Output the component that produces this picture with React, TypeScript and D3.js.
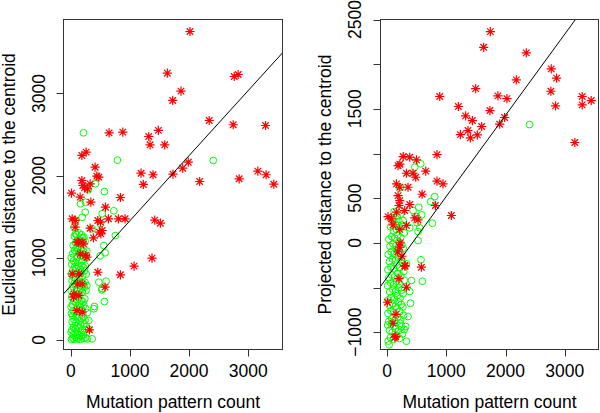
import React from "react";
import * as d3 from "d3";

// ---------- Data ----------
const xTicks = [0, 1000, 2000, 3000];
const yTicksLeft = [0, 1000, 2000, 3000];
const yLabelsLeft = [0, 1000, 2000, 3000];
const yTicksRight = [-1000, -500, 0, 500, 1000, 1500, 2000, 2500];
const yLabelsRight = [-1000, 0, 500, 1500, 2500];

const xTitle = "Mutation pattern count";
const yTitleLeft = "Euclidean distance to the centroid";
const yTitleRight = "Projected distance to the centroid";

// regression lines: [intercept, slope]
const fitLeft = [659, 0.792];
const fitRight = [-388, 0.908];

const euclidRed: [number, number][] = [
  [2015, 3755], [1632, 3247], [2764, 3207], [2831, 3231], [1863, 3028], [1723, 2915],
  [2341, 2671], [2747, 2619], [3294, 2610], [647, 2521], [878, 2529], [1480, 2550],
  [1318, 2476], [1340, 2375], [1588, 2375], [1987, 2163], [1892, 2090], [1728, 2017],
  [1187, 2029], [1390, 2010], [1226, 1892], [2179, 1928], [3164, 2054], [3304, 2010],
  [2848, 1961], [3434, 1895], [1419, 1457], [1514, 1420], [1373, 994], [1069, 897],
  [838, 792], [838, 1733], [635, 1474], [804, 1474], [917, 1474], [585, 1615],
  [456, 1453], [483, 1311], [382, 1242], [326, 1359], [456, 823], [579, 641],
  [314, 122], [439, 1993], [410, 2102], [258, 2285], [186, 2245], [10, 1786],
  [157, 1737], [186, 1940], [203, 1880], [230, 1850], [280, 1839], [338, 1676],
  [22, 1474], [73, 1372], [326, 1900], [473, 1981], [500, 1433], [529, 1331],
  [191, 1189], [106, 1189], [128, 1189], [213, 1169], [157, 1047], [270, 1006],
  [247, 1027], [191, 682], [51, 560], [135, 540], [191, 336], [135, 804],
  [22, 804], [111, 682], [44, 519], [101, 357], [73, 1453], [507, 1291],
];

const euclidGreen: [number, number][] = [
  [213, 2521], [787, 2188], [2409, 2184], [449, 1981], [416, 1900], [275, 1839],
  [568, 1806], [162, 1657], [247, 1676], [242, 1554], [726, 1571], [529, 1535],
  [78, 1453], [191, 1493], [500, 1413], [51, 1372], [360, 1352], [78, 1291],
  [753, 1270], [220, 1250], [106, 1189], [557, 1148], [106, 1128], [579, 1060],
  [495, 1023], [596, 714], [524, 609], [568, 466], [399, 406], [473, 702],
  [389, 378], [304, 235], [360, 12], [275, 12], [529, 625], [297, 1827],
  // dense cluster
  [10, 5], [30, 20], [55, 8], [80, 30], [100, 10], [130, 25], [160, 5], [190, 40],
  [220, 15], [250, 30], [40, 60], [70, 80], [120, 70], [170, 90], [210, 60], [5, 95],
  [145, 50], [15, 120], [45, 150], [75, 130], [105, 170], [135, 140], [165, 180],
  [195, 120], [225, 200], [260, 160], [20, 220], [50, 250], [85, 210], [115, 270],
  [150, 230], [180, 260], [210, 290], [240, 240], [30, 290], [95, 300], [300, 130],
  [10, 320], [40, 350], [70, 330], [100, 380], [130, 340], [160, 400], [190, 360],
  [220, 420], [250, 380], [25, 430], [55, 470], [85, 450], [115, 490], [145, 440],
  [175, 480], [205, 460], [235, 500], [280, 330], [5, 400], [15, 520], [45, 560],
  [75, 540], [105, 600], [135, 560], [165, 620], [195, 580], [225, 640], [255, 600],
  [30, 650], [60, 690], [90, 670], [120, 700], [150, 660], [180, 700], [210, 680],
  [240, 700], [5, 600], [270, 660], [20, 720], [50, 760], [80, 740], [110, 800],
  [140, 760], [170, 820], [200, 780], [230, 840], [260, 800], [35, 850], [65, 890],
  [95, 870], [125, 900], [155, 860], [185, 900], [215, 880], [245, 900], [10, 800],
  [15, 920], [45, 960], [75, 940], [105, 1000], [135, 960], [165, 1020], [195, 980],
  [225, 1040], [255, 1000], [30, 1050], [60, 1090], [90, 1070], [120, 1100],
  [150, 1060], [180, 1100], [210, 1080], [5, 1000], [270, 1080], [40, 1150],
  [80, 1180], [120, 1220], [160, 1160], [200, 1240], [100, 1280], [140, 1300],
  [60, 1260], [240, 1200], [180, 1280],
];

const projRed: [number, number][] = [
  [1744, 2365], [1631, 2189], [2351, 2127], [2772, 1948], [2862, 1843], [2182, 1824],
  [1496, 1727], [2766, 1697], [889, 1638], [1872, 1645], [2024, 1615], [3295, 1638],
  [3447, 1593], [3295, 1545], [2845, 1533], [1204, 1526], [1737, 1481], [1327, 1422],
  [1440, 1369], [1985, 1403], [1597, 1302], [1901, 1328], [1366, 1257], [1238, 1212],
  [1524, 1209], [1406, 1175], [3170, 1123], [843, 988], [1086, 306], [653, 802],
  [944, 660], [843, 690], [591, 544], [816, 418], [580, -273], [304, -262],
  [327, -497], [7, -665], [147, -1049],
  [272, 966], [383, 958], [496, 929], [186, 865], [215, 880], [327, 779], [438, 779],
  [484, 734], [158, 660], [214, 622], [354, 622], [186, 529], [214, 473], [202, 418],
  [383, 429], [298, 362], [158, 343], [17, 294], [74, 269], [467, 280], [523, 257],
  [327, 194], [214, 150], [100, 200], [298, -254], [214, -49], [130, -1057],
  [250, -150], [200, -400], [150, -800], [100, -900], [220, 0], [180, -100],
];

const projGreen: [number, number][] = [
  [2406, 1324], [568, 884], [467, 846], [226, 622], [804, 518], [737, 462],
  [535, 399], [585, 313], [439, 362], [506, 224], [765, 220], [523, 126], [523, 26],
  [573, -190], [597, -430], [383, -545], [395, -676], [354, -825], [315, -937],
  [327, -1101], [34, -1142], [327, -235], [411, -422], [496, 294], [101, 269],
  [270, 250], [186, 194], [383, 168], [551, 168],
  // dense cluster
  [20, -1100], [60, -1060], [110, -1080], [160, -1040], [210, -1070], [260, -1020],
  [40, -980], [90, -1000], [140, -960], [190, -990], [240, -940], [290, -970],
  [10, -920], [70, -910], [120, -930], [220, -900], [30, -880], [80, -850],
  [130, -870], [180, -830], [230, -860], [280, -810], [15, -790], [65, -760],
  [115, -780], [165, -740], [215, -770], [265, -720], [40, -700], [90, -680],
  [140, -710], [190, -660], [240, -690], [20, -640], [70, -610], [120, -630],
  [170, -590], [220, -620], [270, -570], [45, -550], [95, -520], [145, -540],
  [195, -500], [245, -530], [10, -480], [60, -450], [110, -470], [160, -430],
  [210, -460], [290, -420], [30, -390], [80, -360], [130, -380], [180, -340],
  [230, -370], [280, -320], [15, -300], [65, -270], [115, -290], [165, -250],
  [215, -280], [265, -230], [40, -210], [90, -180], [140, -200], [190, -160],
  [240, -190], [20, -130], [70, -100], [120, -120], [170, -80], [220, -110],
  [270, -60], [50, -40], [100, -10], [150, -30], [200, 10], [250, -20], [30, 40],
  [80, 70], [130, 50], [180, 90], [230, 60], [290, 110], [110, 130], [160, 150],
  [60, 180], [140, 210], [200, 240], [250, 200], [90, 260], [170, 300], [230, 320],
  [120, 350],
];

// ---------- Layout ----------
const W = 600;
const H = 413;
const FONT = "'Liberation Sans', Arial, Helvetica, sans-serif";
const FS = 17.5;
const RED = "#FF0000";
const GREEN = "#00FF00";

type PanelProps = {
  x0: number; x1: number; y0: number; y1: number;
  xDomain: [number, number]; yDomain: [number, number];
  yTicks: number[]; yLabels: number[];
  red: [number, number][]; green: [number, number][];
  fit: number[]; yTitle: string; yTitleX: number; yLabelX: number; id: string;
};

const fmt = (v: number) => (v < 0 ? "\u2212" + Math.abs(v) : String(v));

function star(cx: number, cy: number, r: number) {
  const d = r * 0.7071;
  return `M${cx - r},${cy}L${cx + r},${cy}M${cx},${cy - r}L${cx},${cy + r}` +
    `M${cx - d},${cy - d}L${cx + d},${cy + d}M${cx - d},${cy + d}L${cx + d},${cy - d}`;
}

function Panel(p: PanelProps) {
  const xs = d3.scaleLinear().domain(p.xDomain).range([p.x0, p.x1]);
  const ys = d3.scaleLinear().domain(p.yDomain).range([p.y1, p.y0]);
  const fx0 = p.xDomain[0], fx1 = p.xDomain[1];
  const line = d3.line<number>().x((v) => xs(v)).y((v) => ys(p.fit[0] + p.fit[1] * v));
  const tick = 7;
  return (
    <g>
      <defs>
        <clipPath id={p.id}>
          <rect x={p.x0} y={p.y0} width={p.x1 - p.x0} height={p.y1 - p.y0} />
        </clipPath>
      </defs>
      <g clipPath={`url(#${p.id})`}>
        {p.green.map(([x, y], i) => (
          <circle key={"g" + i} cx={xs(x)} cy={ys(y)} r={3.4} fill="none" stroke={GREEN} strokeWidth={1} />
        ))}
        {p.red.map(([x, y], i) => (
          <path key={"r" + i} d={star(xs(x), ys(y), 4.6)} stroke={RED} strokeWidth={1.2} fill="none" />
        ))}
        <path d={line([fx0, fx1]) || ""} stroke="#000" strokeWidth={1} fill="none" />
      </g>
      <rect x={p.x0} y={p.y0} width={p.x1 - p.x0} height={p.y1 - p.y0} fill="none" stroke="#333" strokeWidth={1} />
      {/* x axis */}
      <line x1={xs(xTicks[0])} x2={xs(xTicks[xTicks.length - 1])} y1={p.y1} y2={p.y1} stroke="#333" />
      {xTicks.map((t) => (
        <g key={"xt" + t}>
          <line x1={Math.round(xs(t)) + 0.5} x2={Math.round(xs(t)) + 0.5} y1={p.y1} y2={p.y1 + tick} stroke="#333" />
          <text x={xs(t)} y={377} textAnchor="middle" fontFamily={FONT} fontSize={FS} fill="#000">{fmt(t)}</text>
        </g>
      ))}
      {/* y axis */}
      <line x1={p.x0} x2={p.x0} y1={ys(p.yTicks[0])} y2={ys(p.yTicks[p.yTicks.length - 1])} stroke="#333" />
      {p.yTicks.map((t) => (
        <line key={"yt" + t} x1={p.x0 - tick} x2={p.x0} y1={Math.round(ys(t)) + 0.5} y2={Math.round(ys(t)) + 0.5} stroke="#333" />
      ))}
      {p.yLabels.map((t) => (
        <text key={"yl" + t} transform={`translate(${p.yLabelX},${ys(t)}) rotate(-90)`} textAnchor="middle"
          fontFamily={FONT} fontSize={FS} fill="#000">{fmt(t)}</text>
      ))}
      <text x={(p.x0 + p.x1) / 2} y={408} textAnchor="middle" fontFamily={FONT} fontSize={FS} fill="#000">{xTitle}</text>
      <text transform={`translate(${p.yTitleX},${(p.y0 + p.y1) / 2}) rotate(-90)`} textAnchor="middle"
        fontFamily={FONT} fontSize={FS} fill="#000">{p.yTitle}</text>
    </g>
  );
}

export default function App() {
  return (
    <svg width={W} height={H} style={{ position: "absolute", left: 0, top: 0, background: "#fff" }}>
      <rect x={0} y={0} width={W} height={H} fill="#fff" />
      <Panel id="clipL" x0={63.5} x1={282.5} y0={19.5} y1={349.5}
        xDomain={[-125, 3581]} yDomain={[-118, 3901]}
        yTicks={yTicksLeft} yLabels={yLabelsLeft}
        red={euclidRed} green={euclidGreen} fit={fitLeft}
        yTitle={yTitleLeft} yTitleX={15} yLabelX={45} />
      <Panel id="clipR" x0={380.5} x1={598.5} y0={19.5} y1={349.5}
        xDomain={[-111, 3570]} yDomain={[-1194, 2500]}
        yTicks={yTicksRight} yLabels={yLabelsRight}
        red={projRed} green={projGreen} fit={fitRight}
        yTitle={yTitleRight} yTitleX={330.5} yLabelX={361} />
    </svg>
  );
}
